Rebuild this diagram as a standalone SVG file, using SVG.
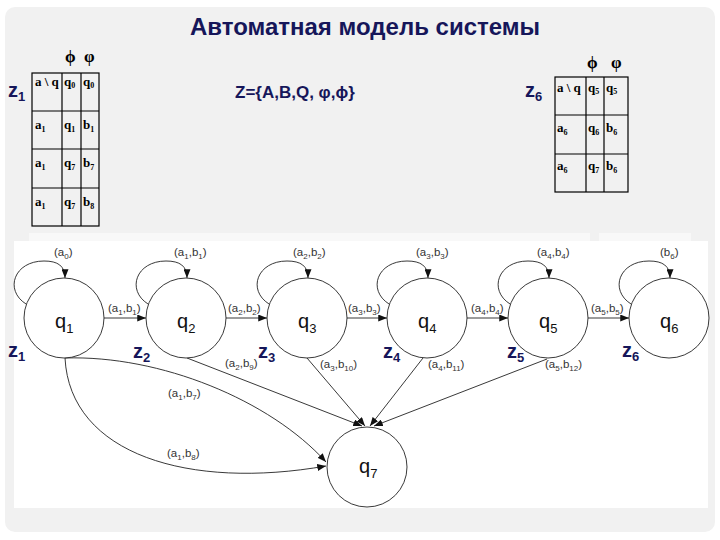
<svg xmlns="http://www.w3.org/2000/svg" width="720" height="540" viewBox="0 0 720 540">
<style>
.title{font-family:"Liberation Sans",Arial,sans-serif;font-weight:bold;font-size:24px;fill:#16165a}
.zl{font-family:"Liberation Sans",Arial,sans-serif;font-weight:bold;font-size:20px;fill:#16165a}
.zs{font-size:13px}
.set{font-family:"Liberation Sans",Arial,sans-serif;font-weight:bold;font-size:17px;fill:#16165a}
.tb{font-family:"Liberation Serif","Times New Roman",serif;font-weight:bold;font-size:13px;fill:#000}
.ts{font-size:8px}
.ph{font-family:"Liberation Serif","Times New Roman",serif;font-weight:bold;font-size:17px;fill:#000}
.cell{fill:none;stroke:#000;stroke-width:1.2}
.node{fill:#fff;stroke:#222;stroke-width:0.9}
.nl{font-family:"Liberation Sans",Arial,sans-serif;font-size:20px;fill:#111}
.ns{font-size:13px}
.el{font-family:"Liberation Sans",Arial,sans-serif;font-size:11.5px;fill:#333}
.es{font-size:8px}
.edge{fill:none;stroke:#222;stroke-width:0.9;marker-end:url(#ah)}
</style>
<defs>
<marker id="ah" markerUnits="userSpaceOnUse" viewBox="0 0 10 8" refX="10" refY="4" markerWidth="9" markerHeight="7" orient="auto">
<path d="M0,0 L10,4 L0,8 z" fill="#111"/>
</marker>
</defs>
<rect x="0" y="0" width="720" height="540" fill="#fff"/>
<rect x="5" y="7" width="710" height="525" rx="10" fill="#f1f1f1"/>
<rect x="29" y="233" width="561" height="9" fill="#f8f8f8"/>
<rect x="599" y="233" width="92" height="9" fill="#f8f8f8"/>
<rect x="14" y="241" width="694" height="267" fill="#fff"/>

<text class="title" x="365" y="35" text-anchor="middle">Автоматная модель системы</text>
<text class="set" x="235" y="98">Z={A,B,Q, φ,ϕ}</text>

<g id="table-z1">
<text class="zl" x="8" y="97">z<tspan class="zs" dy="4">1</tspan></text>
<text class="ph" x="65" y="62">ϕ</text>
<text class="ph" x="84" y="62">φ</text>
<rect class="cell" x="32" y="73" width="67" height="153"/>
<line class="cell" x1="62" y1="73" x2="62" y2="226"/>
<line class="cell" x1="81" y1="73" x2="81" y2="226"/>
<line class="cell" x1="32" y1="111" x2="99" y2="111"/>
<line class="cell" x1="32" y1="149" x2="99" y2="149"/>
<line class="cell" x1="32" y1="188" x2="99" y2="188"/>
<text class="tb" x="35" y="86">a \ q</text>
<text class="tb" x="64" y="86">q<tspan class="ts" dy="2">0</tspan></text>
<text class="tb" x="83" y="86">q<tspan class="ts" dy="2">0</tspan></text>
<text class="tb" x="35" y="129">a<tspan class="ts" dy="3">1</tspan></text>
<text class="tb" x="64" y="129">q<tspan class="ts" dy="3">1</tspan></text>
<text class="tb" x="83" y="129">b<tspan class="ts" dy="3">1</tspan></text>
<text class="tb" x="35" y="167">a<tspan class="ts" dy="3">1</tspan></text>
<text class="tb" x="64" y="167">q<tspan class="ts" dy="3">7</tspan></text>
<text class="tb" x="83" y="167">b<tspan class="ts" dy="3">7</tspan></text>
<text class="tb" x="35" y="206">a<tspan class="ts" dy="3">1</tspan></text>
<text class="tb" x="64" y="206">q<tspan class="ts" dy="3">7</tspan></text>
<text class="tb" x="83" y="206">b<tspan class="ts" dy="3">8</tspan></text>
</g>

<g id="table-z6">
<text class="zl" x="525" y="97">z<tspan class="zs" dy="4">6</tspan></text>
<text class="ph" x="587" y="68">ϕ</text>
<text class="ph" x="611" y="68">φ</text>
<rect class="cell" x="555" y="77" width="73" height="115"/>
<line class="cell" x1="586" y1="77" x2="586" y2="192"/>
<line class="cell" x1="604" y1="77" x2="604" y2="192"/>
<line class="cell" x1="555" y1="115" x2="628" y2="115"/>
<line class="cell" x1="555" y1="154" x2="628" y2="154"/>
<text class="tb" x="557" y="92">a \ q</text>
<text class="tb" x="588" y="92">q<tspan class="ts" dy="2">5</tspan></text>
<text class="tb" x="606" y="92">q<tspan class="ts" dy="2">5</tspan></text>
<text class="tb" x="557" y="132">a<tspan class="ts" dy="3">6</tspan></text>
<text class="tb" x="588" y="132">q<tspan class="ts" dy="3">6</tspan></text>
<text class="tb" x="606" y="132">b<tspan class="ts" dy="3">6</tspan></text>
<text class="tb" x="557" y="170">a<tspan class="ts" dy="3">6</tspan></text>
<text class="tb" x="588" y="170">q<tspan class="ts" dy="3">7</tspan></text>
<text class="tb" x="606" y="170">b<tspan class="ts" dy="3">6</tspan></text>
</g>

<g id="connectors">
<path class="edge" d="M26,304 C4,290 14,261 44,261 C58,261 65,266 65,278"/>
<path class="edge" d="M148,304 C126,290 136,261 166,261 C180,261 187,266 187,278"/>
<path class="edge" d="M269,304 C247,290 257,261 287,261 C301,261 308,266 308,278"/>
<path class="edge" d="M389,304 C367,290 377,261 407,261 C421,261 428,266 428,278"/>
<path class="edge" d="M510,304 C488,290 498,261 528,261 C542,261 549,266 549,278"/>
<path class="edge" d="M631,304 C609,290 619,261 649,261 C663,261 670,266 670,278"/>
<path class="edge" d="M104,318 L146,318"/>
<path class="edge" d="M226,318 L267,318"/>
<path class="edge" d="M347,318 L387,318"/>
<path class="edge" d="M467,318 L508,318"/>
<path class="edge" d="M588,318 L629,318"/>
<path class="edge" d="M65,358 C160,355 270,400 326,462"/>
<path class="edge" d="M65,358 C70,455 190,490 326,466"/>
<path class="edge" d="M187,358 L362,426"/>
<path class="edge" d="M307,358 L365,426"/>
<path class="edge" d="M423,358 L370,426"/>
<path class="edge" d="M547,359 L374,426"/>
<text class="el" x="54" y="256">(a<tspan class="es" dy="3">0</tspan><tspan dy="-3">)</tspan></text>
<text class="el" x="174" y="256">(a<tspan class="es" dy="3">1</tspan><tspan dy="-3">,b</tspan><tspan class="es" dy="3">1</tspan><tspan dy="-3">)</tspan></text>
<text class="el" x="293" y="256">(a<tspan class="es" dy="3">2</tspan><tspan dy="-3">,b</tspan><tspan class="es" dy="3">2</tspan><tspan dy="-3">)</tspan></text>
<text class="el" x="416" y="256">(a<tspan class="es" dy="3">3</tspan><tspan dy="-3">,b</tspan><tspan class="es" dy="3">3</tspan><tspan dy="-3">)</tspan></text>
<text class="el" x="537" y="256">(a<tspan class="es" dy="3">4</tspan><tspan dy="-3">,b</tspan><tspan class="es" dy="3">4</tspan><tspan dy="-3">)</tspan></text>
<text class="el" x="660" y="256">(b<tspan class="es" dy="3">6</tspan><tspan dy="-3">)</tspan></text>
<text class="el" x="108" y="312">(a<tspan class="es" dy="3">1</tspan><tspan dy="-3">,b</tspan><tspan class="es" dy="3">1</tspan><tspan dy="-3">)</tspan></text>
<text class="el" x="228" y="312">(a<tspan class="es" dy="3">2</tspan><tspan dy="-3">,b</tspan><tspan class="es" dy="3">2</tspan><tspan dy="-3">)</tspan></text>
<text class="el" x="348" y="312">(a<tspan class="es" dy="3">3</tspan><tspan dy="-3">,b</tspan><tspan class="es" dy="3">3</tspan><tspan dy="-3">)</tspan></text>
<text class="el" x="471" y="312">(a<tspan class="es" dy="3">4</tspan><tspan dy="-3">,b</tspan><tspan class="es" dy="3">4</tspan><tspan dy="-3">)</tspan></text>
<text class="el" x="591" y="312">(a<tspan class="es" dy="3">5</tspan><tspan dy="-3">,b</tspan><tspan class="es" dy="3">5</tspan><tspan dy="-3">)</tspan></text>
<text class="el" x="225" y="367">(a<tspan class="es" dy="3">2</tspan><tspan dy="-3">,b</tspan><tspan class="es" dy="3">9</tspan><tspan dy="-3">)</tspan></text>
<text class="el" x="320" y="368">(a<tspan class="es" dy="3">3</tspan><tspan dy="-3">,b</tspan><tspan class="es" dy="3">10</tspan><tspan dy="-3">)</tspan></text>
<text class="el" x="428" y="368">(a<tspan class="es" dy="3">4</tspan><tspan dy="-3">,b</tspan><tspan class="es" dy="3">11</tspan><tspan dy="-3">)</tspan></text>
<text class="el" x="545" y="368">(a<tspan class="es" dy="3">5</tspan><tspan dy="-3">,b</tspan><tspan class="es" dy="3">12</tspan><tspan dy="-3">)</tspan></text>
<text class="el" x="168" y="397">(a<tspan class="es" dy="3">1</tspan><tspan dy="-3">,b</tspan><tspan class="es" dy="3">7</tspan><tspan dy="-3">)</tspan></text>
<text class="el" x="167" y="457">(a<tspan class="es" dy="3">1</tspan><tspan dy="-3">,b</tspan><tspan class="es" dy="3">8</tspan><tspan dy="-3">)</tspan></text>
</g>

<g id="q1"><circle class="node" cx="64" cy="318" r="40"/><text class="nl" x="55" y="328">q<tspan class="ns" dy="5">1</tspan></text></g>
<g id="q2"><circle class="node" cx="186" cy="318" r="40"/><text class="nl" x="177" y="328">q<tspan class="ns" dy="5">2</tspan></text></g>
<g id="q3"><circle class="node" cx="307" cy="318" r="40"/><text class="nl" x="298" y="328">q<tspan class="ns" dy="5">3</tspan></text></g>
<g id="q4"><circle class="node" cx="427" cy="318" r="40"/><text class="nl" x="418" y="328">q<tspan class="ns" dy="5">4</tspan></text></g>
<g id="q5"><circle class="node" cx="548" cy="318" r="40"/><text class="nl" x="539" y="328">q<tspan class="ns" dy="5">5</tspan></text></g>
<g id="q6"><circle class="node" cx="669" cy="318" r="40"/><text class="nl" x="660" y="328">q<tspan class="ns" dy="5">6</tspan></text></g>
<g id="q7"><circle class="node" cx="367" cy="467" r="40"/><text class="nl" x="359" y="473">q<tspan class="ns" dy="5">7</tspan></text></g>

<g id="zlabels">
<text class="zl" x="8" y="357">z<tspan class="zs" dy="4">1</tspan></text>
<text class="zl" x="133" y="358">z<tspan class="zs" dy="4">2</tspan></text>
<text class="zl" x="258" y="358">z<tspan class="zs" dy="4">3</tspan></text>
<text class="zl" x="383" y="358">z<tspan class="zs" dy="4">4</tspan></text>
<text class="zl" x="507" y="358">z<tspan class="zs" dy="4">5</tspan></text>
<text class="zl" x="622" y="357">z<tspan class="zs" dy="4">6</tspan></text>
</g>
</svg>
